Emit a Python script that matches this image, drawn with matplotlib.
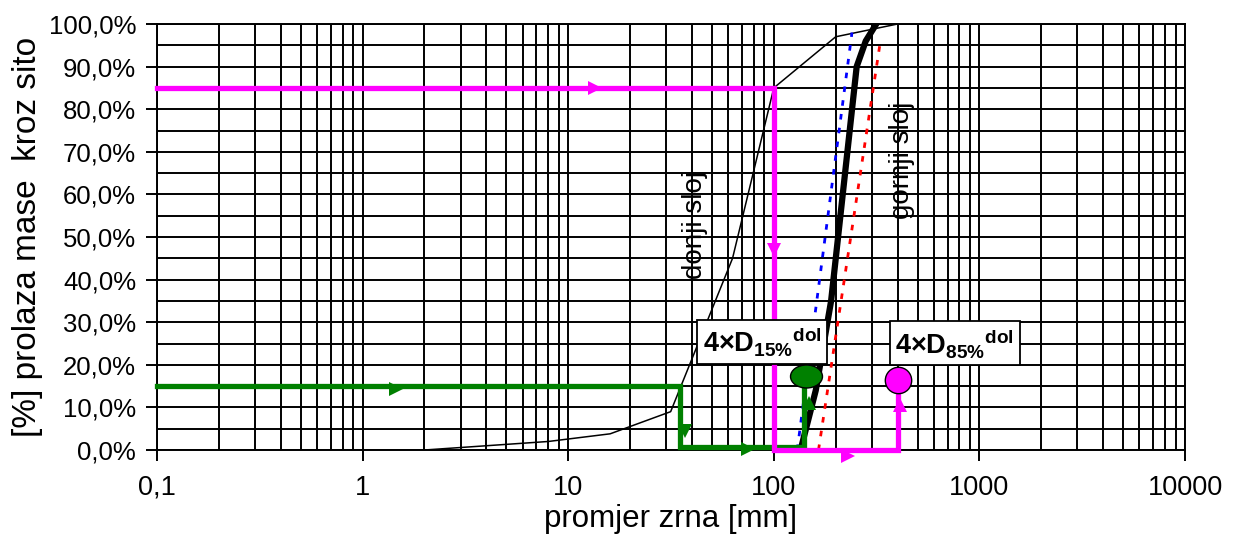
import numpy as np
import matplotlib
matplotlib.use("Agg")
import matplotlib.pyplot as plt
from matplotlib.ticker import FixedLocator, MultipleLocator, NullFormatter
from matplotlib.path import Path

plt.rcParams['font.family'] = ['Liberation Sans', 'DejaVu Sans']
plt.rcParams['mathtext.fontset'] = 'custom'
plt.rcParams['mathtext.rm'] = 'Liberation Sans'
plt.rcParams['mathtext.bf'] = 'Liberation Sans:bold'

# donji sloj (thin black grading curve)
donji_x = [2, 8, 16, 31.5, 63, 100, 200, 400]
donji_y = [0, 2, 3.8, 9, 45, 85, 97, 100]

# gornji sloj (thick black grading curve)
gornji_x = [135, 160, 190, 228, 253, 280, 315]
gornji_y = [0, 14, 35, 70, 90, 96, 100]

# filter limits (dotted)
blue_x = [130, 240]
blue_y = [0, 98]
red_x = [165, 330]
red_y = [0, 96]

# D15 construction (green)
green_x = [0.1, 35, 35, 140, 140]
green_y = [15, 15, 0.8, 0.8, 16]
green_dot = (143, 17.4)

# D85 construction (magenta)
mag_x = [0.1, 100, 100, 400, 400]
mag_y = [85, 85, 0, 0, 15]
mag_dot = (400, 16.4)

# direction arrows: (x, y, marker)
green_arrows = [(1.45, 14.3, '>'), (37, 4.5, 'v'), (75, 0.2, '>'), (148, 11, '^')]
mag_arrows = [(13.5, 85, '>'), (100, 47, 'v'), (230, -1.3, '>'), (410, 10.5, '^')]

xticks = [0.1, 1, 10, 100, 1000, 10000]
xtick_labels = ['0,1', '1', '10', '100', '1000', '10000']
yticks = list(range(0, 101, 10))
ytick_labels = [f"{v:.1f}%".replace('.', ',') for v in yticks]

fig = plt.figure(figsize=(12.35, 5.38), dpi=100)
ax = fig.add_axes([157 / 1235, 1 - 450 / 538, 1028 / 1235, 426 / 538])

ax.set_xscale('log')
ax.set_xlim(0.1, 10000)
ax.set_ylim(0, 100)

ax.xaxis.set_major_locator(FixedLocator(xticks))
ax.set_xticklabels(xtick_labels)
minor = [m * 10.0 ** e for e in range(-1, 4) for m in range(2, 10)]
ax.xaxis.set_minor_locator(FixedLocator(minor))
ax.xaxis.set_minor_formatter(NullFormatter())
ax.set_yticks(yticks)
ax.set_yticklabels(ytick_labels)
ax.yaxis.set_minor_locator(MultipleLocator(5))

ax.grid(which='both', color='black', linewidth=1.4)
ax.set_axisbelow(True)
ax.tick_params(which='major', direction='out', length=8, width=1.4, colors='black')
ax.tick_params(axis='y', labelsize=18.5, pad=7)
ax.tick_params(axis='x', labelsize=19.5, pad=10)
ax.tick_params(which='minor', length=0)
for s in ax.spines.values():
    s.set_color('black')
    s.set_linewidth(1.4)

ax.set_xlabel('promjer zrna [mm]', fontsize=22.5, labelpad=2)
ax.set_ylabel('[%] prolaza mase  kroz sito', fontsize=24, labelpad=4)

ax.plot(donji_x, donji_y, color='black', lw=1.1, zorder=3)
ax.plot(blue_x, blue_y, color='#0000FF', lw=2, ls=(0, (2, 3)), zorder=3)
ax.plot(red_x, red_y, color='#FF0000', lw=2, ls=(0, (2, 3)), zorder=3)
ax.plot(gornji_x, gornji_y, color='black', lw=4.5, zorder=4)

ax.plot(green_x, green_y, color='#008000', lw=3.8, zorder=5, clip_on=False,
        solid_joinstyle='miter')
ax.plot(mag_x, mag_y, color='#FF00FF', lw=3.8, zorder=5, clip_on=False,
        solid_joinstyle='miter')

for x, y, m in green_arrows:
    ax.plot([x], [y], marker=m, ms=10, color='#008000', mew=0, zorder=6, clip_on=False)
for x, y, m in mag_arrows:
    ax.plot([x], [y], marker=m, ms=10, color='#FF00FF', mew=0, zorder=6, clip_on=False)

circ = Path.unit_circle()
ell = Path(circ.vertices * [1, 0.72], circ.codes)
ax.plot([green_dot[0]], [green_dot[1]], marker=ell, ms=23, color='#008000',
        mec='black', mew=1, zorder=7)
ax.plot([mag_dot[0]], [mag_dot[1]], marker='o', ms=19, color='#FF00FF',
        mec='black', mew=1, zorder=7)

ax.text(41.4, 52.8, 'donji sloj', rotation=90, fontsize=20, ha='center', va='center',
        zorder=8)
ax.text(420, 68, 'gornji sloj', rotation=90, fontsize=20, ha='center', va='center',
        zorder=8)

box = dict(boxstyle='square,pad=0.2', facecolor='white', edgecolor='black', lw=1.3)
ax.text(87.7, 25.4, r'$\mathbf{4{\times}D_{15\%}{}^{dol}}$', fontsize=19.5,
        ha='center', va='center', bbox=box, zorder=9)
ax.text(760, 25.1, r'$\mathbf{4{\times}D_{85\%}{}^{dol}}$', fontsize=19.5,
        ha='center', va='center', bbox=box, zorder=9)

fig.savefig('out.png', dpi=100)
